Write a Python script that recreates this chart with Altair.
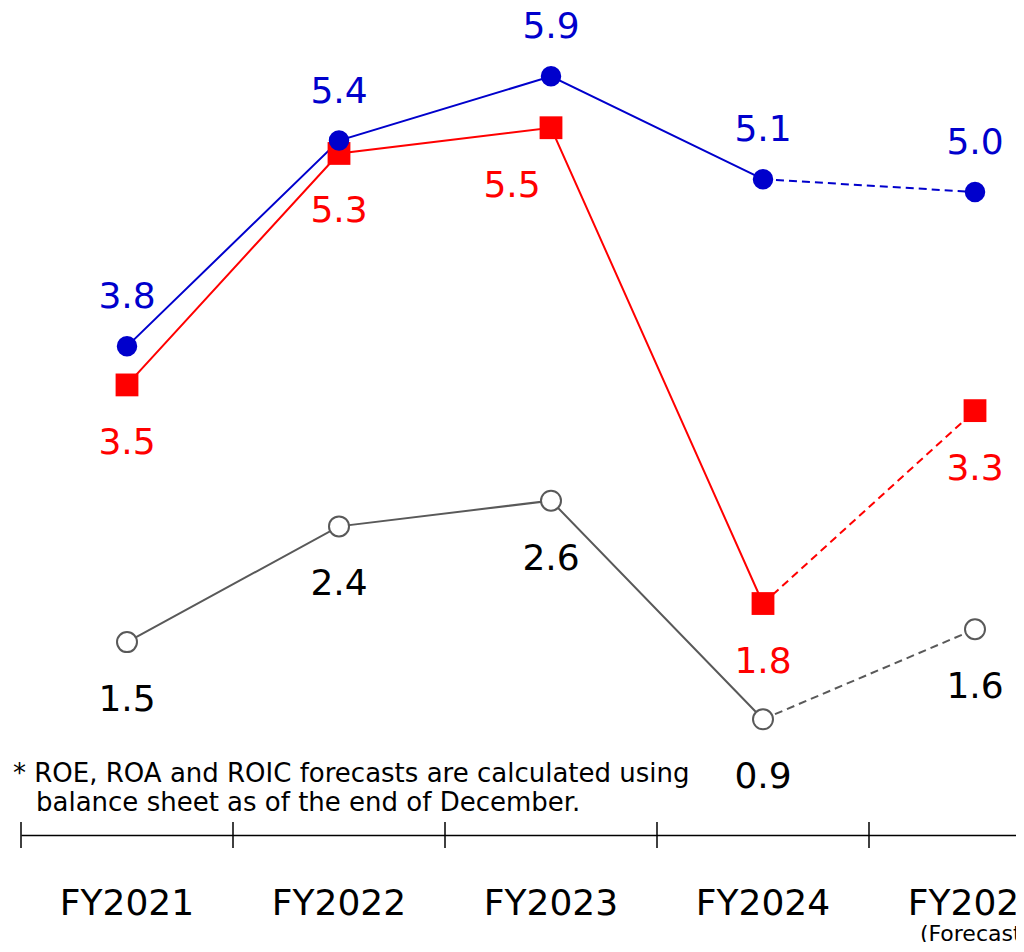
import altair as alt
import pandas as pd

years = ["FY2021", "FY2022", "FY2023", "FY2024", "FY2025"]
roe = [3.8, 5.4, 5.9, 5.1, 5.0]
roic = [3.5, 5.3, 5.5, 1.8, 3.3]
roa = [1.5, 2.4, 2.6, 0.9, 1.6]
series_names = ["ROE", "ROIC", "ROA"]
forecast_note = ["(Forecast)"]
footnote_lines = [
    "* ROE, ROA and ROIC forecasts are calculated using",
    "balance sheet as of the end of December.",
]

rows = []
for name, vals in zip(series_names, [roe, roic, roa]):
    for i, (yr, v) in enumerate(zip(years, vals)):
        rows.append({"series": name, "year": yr, "value": v,
                     "actual": i <= 3, "forecast": i >= 3})
df = pd.DataFrame(rows)
years_df = pd.DataFrame({"year": years})
note_df = pd.DataFrame({"year": [years[-1]], "note": forecast_note})

FONT = "DejaVu Sans"
BLUE, RED, GRAY = "#0000CC", "#FF0000", "#595959"

x_scale = alt.Scale(type="band", domain=years, range=[0, 1060],
                    paddingInner=0, paddingOuter=0)
x_axis = alt.Axis(title=None, labels=False, ticks=False, grid=False,
                  domain=True, domainColor="#000000", domainWidth=1.5)


def X(**kw):
    return alt.X("year:N", sort=years, scale=x_scale, axis=x_axis, **kw)


Y = alt.Y("value:Q", scale=alt.Scale(domain=[0, 6.4], nice=False, zero=False), axis=None)
color = alt.Color("series:N", scale=alt.Scale(domain=series_names, range=[BLUE, RED, GRAY]),
                  legend=None)

base = alt.Chart(df)

ticks = alt.Chart(years_df).mark_rule(color="#000000", strokeWidth=1.5).encode(
    x=X(bandPosition=0), y=alt.value(810), y2=alt.value(836))

solid = base.transform_filter("datum.actual").mark_line(strokeWidth=2).encode(
    x=X(), y=Y, color=color, detail="series:N")
dashed = base.transform_filter("datum.forecast").mark_line(
    strokeWidth=2, strokeDash=[8, 5]).encode(x=X(), y=Y, color=color, detail="series:N")

roe_pts = base.transform_filter("datum.series == 'ROE'").mark_point(
    shape="circle", filled=True, size=420, color=BLUE, opacity=1).encode(x=X(), y=Y)
roic_pts = base.transform_filter("datum.series == 'ROIC'").mark_point(
    shape="square", filled=True, size=520, color=RED, opacity=1).encode(x=X(), y=Y)
roa_pts = base.transform_filter("datum.series == 'ROA'").mark_point(
    shape="circle", filled=True, fill="white", stroke=GRAY, strokeWidth=2,
    size=400, opacity=1).encode(x=X(), y=Y)

txt = alt.Text("value:Q", format=".1f")
roe_lbl = base.transform_filter("datum.series == 'ROE'").mark_text(
    font=FONT, fontSize=36, color=BLUE, dy=-38, baseline="alphabetic").encode(
    x=X(), y=Y, text=txt)
roic_lbl = base.transform_filter(
    "datum.series == 'ROIC' && datum.year != 'FY2023'").mark_text(
    font=FONT, fontSize=36, color=RED, dy=69, baseline="alphabetic").encode(
    x=X(), y=Y, text=txt)
roic_lbl2 = base.transform_filter(
    "datum.series == 'ROIC' && datum.year == 'FY2023'").mark_text(
    font=FONT, fontSize=36, color=RED, dx=-39, dy=69, baseline="alphabetic").encode(
    x=X(), y=Y, text=txt)
roa_lbl = base.transform_filter("datum.series == 'ROA'").mark_text(
    font=FONT, fontSize=36, color="#000000", dy=69, baseline="alphabetic").encode(
    x=X(), y=Y, text=txt)

year_lbl = alt.Chart(years_df).mark_text(
    font=FONT, fontSize=36, color="#000000", baseline="alphabetic").encode(
    x=X(), y=alt.value(903), text="year:N")
note_lbl = alt.Chart(note_df).mark_text(
    font=FONT, fontSize=22, color="#000000", baseline="alphabetic").encode(
    x=X(), y=alt.value(929), text="note:N")

foot1 = alt.Chart(pd.DataFrame({"t": [footnote_lines[0]]})).mark_text(
    font=FONT, fontSize=26, color="#000000", align="left", baseline="alphabetic").encode(
    x=alt.value(-8), y=alt.value(770), text="t:N")
foot2 = alt.Chart(pd.DataFrame({"t": [footnote_lines[1]]})).mark_text(
    font=FONT, fontSize=26, color="#000000", align="left", baseline="alphabetic").encode(
    x=alt.value(15), y=alt.value(799), text="t:N")

chart = alt.layer(
    ticks, solid, dashed, roa_pts, roic_pts, roe_pts,
    roe_lbl, roic_lbl, roic_lbl2, roa_lbl, year_lbl, note_lbl, foot1, foot2
).properties(
    width=995, height=823,
    padding={"left": 13, "top": 4, "right": 0, "bottom": 107},
    autosize=alt.AutoSizeParams(type="none"),
).configure(font=FONT).configure_view(stroke=None)

chart.save("out.html", embed_options={"renderer": "svg", "actions": False})
